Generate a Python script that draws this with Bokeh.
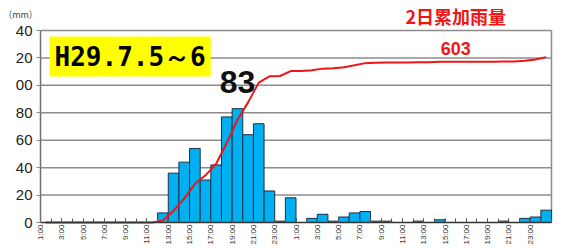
import math
import numpy as np
from bokeh.plotting import figure
from bokeh.models import Range1d, FixedTicker, Label, ColumnDataSource
from bokeh.embed import file_html
from bokeh.resources import INLINE

# hourly rainfall (mm), 48 hours: 7/5 1:00 .. 7/6 24:00
rain = [0, 0, 0, 0, 0, 0, 0, 0, 0, 0, 0,
        7, 36, 44, 54, 31, 42, 77, 83, 64, 72, 23, 1, 18,
        0, 3, 6, 1, 4, 7, 8, 1, 1, 0, 0, 1, 0, 2, 0, 0,
        0, 0, 0, 1, 0, 3, 4, 9]

tick_labels = ["1:00", "3:00", "5:00", "7:00", "9:00", "11:00",
               "13:00", "15:00", "17:00", "19:00", "21:00", "23:00",
               "1:00", "3:00", "5:00", "7:00", "9:00", "11:00",
               "13:00", "15:00", "17:00", "19:00", "21:00", "23:00"]

y_ticks = [0, 20, 40, 60, 80, 100, 120, 140]
y_tick_text = ["0", "20", "40", "60", "80", "00", "20", "40"]
cum_axis_max = 700          # hidden secondary (cumulative) axis maximum

title_text = "H29.7.5～6"
total_title = "2日累加雨量"
unit_text = "（mm）"

n = len(rain)
y_max = y_ticks[-1]
idx = np.arange(n)
cum = np.cumsum(rain)
src = ColumnDataSource(dict(x=idx + 0.5, rain=rain, cum=cum))

# ---- layout (pixels in the canvas) ----
W, H = 554, 244
PX_X0, PX_XN = 40, 551       # x = 0 and x = n
PX_Y0, PX_YTOP = 222, 30     # y = 0 and y = y_max
sx = (PX_XN - PX_X0) / n
sy = (PX_Y0 - PX_YTOP) / y_max
x_lo, x_hi = -PX_X0 / sx, n + (W - PX_XN) / sx
y_lo, y_hi = -(H - PX_Y0) / sy, y_max + PX_YTOP / sy
ratio = cum_axis_max / y_max

p = figure(width=W, height=H, output_backend="svg", toolbar_location=None,
           x_range=Range1d(x_lo, x_hi), y_range=Range1d(y_lo, y_hi),
           min_border_left=0, min_border_right=0, min_border_top=0,
           min_border_bottom=0, background_fill_color="white",
           border_fill_color="white", outline_line_color=None)
p.title.visible = False
p.extra_y_ranges = {"cum": Range1d(y_lo * ratio, y_hi * ratio)}

# grid lines and right border
p.xgrid.visible = False
p.ygrid.visible = False
p.segment(x0=0, x1=n, y0=y_ticks[1:], y1=y_ticks[1:], line_color="#8c8c8c",
          line_width=1.5)
p.segment(x0=[n], x1=[n], y0=[0], y1=[y_max], line_color="#8c8c8c", line_width=1.5)

p.vbar(x="x", top="rain", width=1, source=src, fill_color="#00B0F0",
       line_color="#17304a", line_width=1)
p.line(x="x", y="cum", source=src, y_range_name="cum", line_color="#f01414",
       line_width=2)

# y axis
p.yaxis.fixed_location = 0
p.yaxis.bounds = (0, y_max)
p.yaxis.ticker = FixedTicker(ticks=y_ticks)
p.yaxis.major_label_overrides = {t: s for t, s in zip(y_ticks, y_tick_text)}
p.yaxis.major_label_text_font = "Liberation Sans"
p.yaxis.major_label_text_font_size = "15px"
p.yaxis.major_label_text_color = "#222222"
p.yaxis.axis_line_color = "#6f6f6f"
p.yaxis.axis_line_width = 1.5
p.yaxis.major_tick_line_color = "#8c8c8c"
p.yaxis.major_tick_in = 0
p.yaxis.major_tick_out = 4
p.yaxis.minor_tick_line_color = None
p.yaxis.major_label_standoff = 4

# x axis
label_pos = list(range(0, n, 2))
p.xaxis.fixed_location = 0
p.xaxis.bounds = (0, n)
p.xaxis.ticker = FixedTicker(ticks=label_pos, minor_ticks=list(range(n + 1)))
p.xaxis.major_label_overrides = {t: s for t, s in zip(label_pos, tick_labels)}
p.xaxis.major_label_orientation = math.pi / 2
p.xaxis.major_label_text_font = "Liberation Sans"
p.xaxis.major_label_text_font_size = "8px"
p.xaxis.major_label_text_color = "#333333"
p.xaxis.major_label_standoff = 2
p.xaxis.axis_line_color = "#333333"
p.xaxis.axis_line_width = 1.5
p.xaxis.major_tick_in = 4
p.xaxis.major_tick_out = 0
p.xaxis.minor_tick_in = 4
p.xaxis.minor_tick_out = 0
p.xaxis.major_tick_line_color = "#555555"
p.xaxis.minor_tick_line_color = "#555555"

# annotations
peak_i = int(np.argmax(rain))
p.add_layout(Label(x=peak_i + 0.5, y=rain[peak_i], y_offset=16, text=str(rain[peak_i]),
                   text_align="center", text_baseline="bottom",
                   text_font="Liberation Sans", text_font_style="bold",
                   text_font_size="32px", text_color="#111111"))

p.add_layout(Label(x=39, y=int(cum[-1]), y_range_name="cum", y_offset=2,
                   text=str(int(cum[-1])), text_align="center", text_baseline="bottom",
                   text_font="Liberation Sans", text_font_style="bold",
                   text_font_size="18px", text_color="#f01414"))

p.add_layout(Label(x=39, y=y_max, y_offset=2, text=total_title,
                   text_align="center", text_baseline="bottom",
                   text_font="Noto Sans CJK JP", text_font_style="bold",
                   text_font_size="18px", text_color="#f01414"))

p.add_layout(Label(x=-1.88, y=y_max, y_offset=10, text=unit_text,
                   text_align="center", text_baseline="bottom",
                   text_font="Noto Sans CJK JP",
                   text_font_size="9px", text_color="#444444"))

p.add_layout(Label(x=0.85, y=y_max, y_offset=-6, text=title_text,
                   text_align="left", text_baseline="top",
                   text_font="DejaVu Sans Mono", text_font_style="bold",
                   text_font_size="26px", text_color="black",
                   background_fill_color="#ffff00", padding=5))

open("out.html", "w").write(file_html(p, INLINE))
